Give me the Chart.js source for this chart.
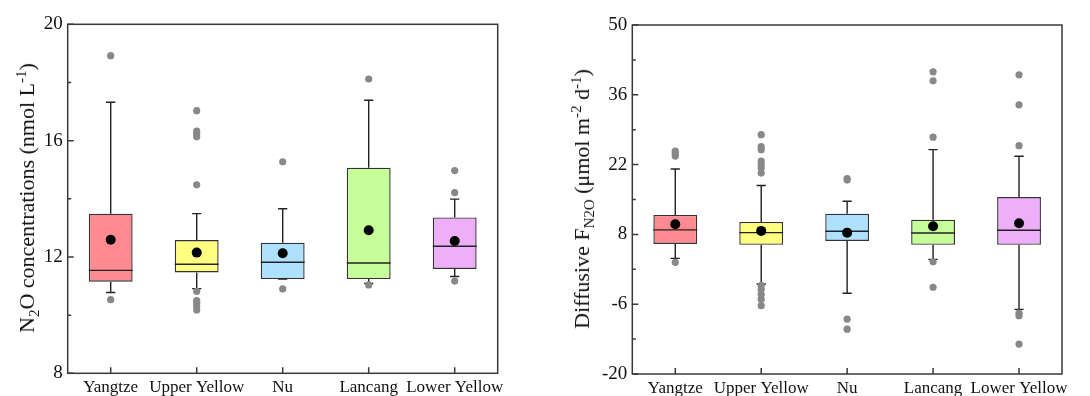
<!DOCTYPE html>
<html>
<head>
<meta charset="utf-8">
<script src="https://cdn.jsdelivr.net/npm/chart.js@4"></script>
<style>
  html, body { margin: 0; padding: 0; background: #fff; }
  #wrap { position: relative; width: 1090px; height: 396px; overflow: hidden; }
  .panel { position: absolute; top: 0; width: 545px; height: 396px; }
  .ytitle {
    position: absolute; white-space: nowrap; color: #111; line-height: 1;
    font: 22px 'Liberation Serif', 'Times New Roman', serif;
    transform: translate(-50%, -50%) rotate(-90deg);
  }
  .ytitle sub, .ytitle sup { font-size: 0.68em; line-height: 0; }
</style>
</head>
<body>
<div id="wrap">
  <div class="panel" style="left:0"><canvas id="conc"></canvas></div>
  <div class="panel" style="left:545px"><canvas id="flux"></canvas></div>
  <div class="ytitle" style="left:27px;top:198px">N<sub>2</sub>O concentrations (nmol L<sup>-1</sup>)</div>
  <div class="ytitle" style="left:582px;top:199px">Diffusive F<sub>N2O</sub> (μmol m<sup>-2</sup> d<sup>-1</sup>)</div>
</div>
<script>
(function () {
  "use strict";

  var categories = ["Yangtze", "Upper Yellow", "Nu", "Lancang", "Lower Yellow"];
  var boxColors = ["#ff8a91", "#ffff80", "#aee0ff", "#c6ff99", "#eeaefa"];

  // ── N2O concentrations (nmol L-1) ─────────────────

  var concQ1 = [11.15, 11.47, 11.24, 11.24, 11.59];
  var concMedian = [11.54, 11.75, 11.82, 11.79, 12.37];
  var concQ3 = [13.49, 12.58, 12.49, 15.07, 13.36];
  var concLow = [10.78, 10.91, 11.24, 11.09, 11.33];
  var concHigh = [17.32, 13.49, 13.66, 17.39, 13.99];
  var concMean = [12.59, 12.15, 12.13, 12.92, 12.55];
  var concOutliers = [
    [18.92, 10.53],
    [17.03, 16.33, 16.24, 16.13, 14.48, 10.82, 10.5, 10.42, 10.3, 10.18],
    [15.27, 10.9],
    [18.12, 11.04],
    [14.97, 14.21, 11.17]
  ];

  // ── Diffusive N2O flux (umol m-2 d-1) ─────────────

  var fluxQ1 = [6.08, 5.9, 6.68, 5.9, 5.9];
  var fluxMedian = [8.9, 8.35, 8.62, 8.28, 8.82];
  var fluxQ3 = [11.9, 10.5, 12.16, 10.96, 15.5];
  var fluxLow = [3.2, -1.95, -3.8, 3.0, -7.03];
  var fluxHigh = [21.12, 17.8, 14.64, 25.0, 23.66];
  var fluxMean = [10.02, 8.7, 8.35, 9.62, 10.22];
  var fluxOutliers = [
    [24.7, 24.2, 23.7, 2.4],
    [28.0, 25.6, 25.0, 22.7, 22.0, 21.3, 20.3, -2.2, -3.0, -4.0, -5.0, -6.3],
    [19.2, 18.9, -9.0, -11.0],
    [40.6, 38.8, 27.5, 2.5, -2.6],
    [40.0, 34.0, 25.8, -7.8, -8.3, -14.0]
  ];

  Chart.defaults.font.family = "'Liberation Serif', 'Times New Roman', serif";
  Chart.defaults.color = "#111";
  Chart.defaults.animation = false;

  function line(ctx, x1, y1, x2, y2) {
    ctx.moveTo(x1, y1);
    ctx.lineTo(x2, y2);
  }

  // whiskers + median over the boxes, then frame and inward ticks
  function boxPlugin(s) {
    return {
      id: "boxExtras",
      afterDatasetDraw: function (chart, args) {
        if (args.index !== 0) return;
        var ys = chart.scales.y, ctx = chart.ctx, cap = 4.6;
        ctx.save();
        ctx.strokeStyle = "#222";
        ctx.lineWidth = 1.4;
        args.meta.data.forEach(function (bar, i) {
          var p = bar.getProps(["x", "width"], true);
          var x = p.x, half = p.width / 2;
          var yq1 = ys.getPixelForValue(s.q1[i]);
          var yq3 = ys.getPixelForValue(s.q3[i]);
          var ylo = ys.getPixelForValue(s.low[i]);
          var yhi = ys.getPixelForValue(s.high[i]);
          var ymed = ys.getPixelForValue(s.median[i]);
          ctx.beginPath();
          line(ctx, x, yq3, x, yhi);
          line(ctx, x - cap, yhi, x + cap, yhi);
          line(ctx, x, yq1, x, ylo);
          line(ctx, x - cap, ylo, x + cap, ylo);
          line(ctx, x - half, ymed, x + half, ymed);
          ctx.stroke();
        });
        ctx.restore();
      },
      afterDraw: function (chart) {
        var ctx = chart.ctx, a = chart.chartArea;
        var ys = chart.scales.y, xs = chart.scales.x;
        ctx.save();
        ctx.strokeStyle = "#3a3a3a";
        ctx.lineWidth = 1.5;
        ctx.strokeRect(a.left, a.top, a.right - a.left, a.bottom - a.top);
        ctx.beginPath();
        ys.ticks.forEach(function (t, k) {
          var py = ys.getPixelForValue(t.value);
          line(ctx, a.left, py, a.left + 6, py);
          if (k < ys.ticks.length - 1) {
            var my = ys.getPixelForValue((t.value + ys.ticks[k + 1].value) / 2);
            line(ctx, a.left, my, a.left + 3.5, my);
          }
        });
        xs.ticks.forEach(function (t, k) {
          var px = xs.getPixelForValue(k);
          line(ctx, px, a.bottom, px, a.bottom - 6);
        });
        ctx.stroke();
        ctx.restore();
      }
    };
  }

  function makeBoxChart(id, s) {
    var outlierPts = [];
    s.outliers.forEach(function (vals, i) {
      vals.forEach(function (v) { outlierPts.push({ x: categories[i], y: v }); });
    });
    var meanPts = s.mean.map(function (v, i) { return { x: categories[i], y: v }; });

    return new Chart(document.getElementById(id), {
      type: "bar",
      data: {
        labels: categories,
        datasets: [
          {
            type: "bar",
            data: s.q1.map(function (v, i) { return [v, s.q3[i]]; }),
            backgroundColor: boxColors,
            borderColor: "#333",
            borderWidth: 1.4,
            borderSkipped: false,
            barPercentage: 0.51,
            categoryPercentage: 1,
            order: 3
          },
          {
            type: "scatter",
            data: outlierPts,
            pointRadius: 3.6,
            pointBackgroundColor: "#888",
            pointBorderWidth: 0,
            order: 2
          },
          {
            type: "scatter",
            data: meanPts,
            pointRadius: 5,
            pointBackgroundColor: "#000",
            pointBorderWidth: 0,
            order: 1
          }
        ]
      },
      options: {
        responsive: true,
        maintainAspectRatio: false,
        events: [],
        layout: { padding: { left: 0, top: s.top, right: s.right, bottom: 0 } },
        plugins: { legend: { display: false }, tooltip: { enabled: false } },
        scales: {
          x: {
            type: "category",
            offset: true,
            grid: { display: false, drawTicks: false },
            border: { display: false },
            ticks: { autoSkip: false, maxRotation: 0, minRotation: 0, padding: 4, font: { size: 17 } },
            afterFit: function (sc) { sc.height = s.xh; }
          },
          y: {
            min: s.min,
            max: s.max,
            grid: { display: false, drawTicks: false },
            border: { display: false },
            ticks: { stepSize: s.step, padding: 5, font: { size: 19 } },
            afterFit: function (sc) { sc.width = s.yw; }
          }
        }
      },
      plugins: [boxPlugin(s)]
    });
  }

  makeBoxChart("conc", {
    q1: concQ1, median: concMedian, q3: concQ3, low: concLow, high: concHigh,
    mean: concMean, outliers: concOutliers,
    min: 8, max: 20, step: 4,
    top: 24.3, right: 47.3, yw: 67.7, xh: 22.7
  });

  makeBoxChart("flux", {
    q1: fluxQ1, median: fluxMedian, q3: fluxQ3, low: fluxLow, high: fluxHigh,
    mean: fluxMean, outliers: fluxOutliers,
    min: -20, max: 50, step: 14,
    top: 25, right: 28, yw: 87.3, xh: 22
  });
})();
</script>
</body>
</html>
